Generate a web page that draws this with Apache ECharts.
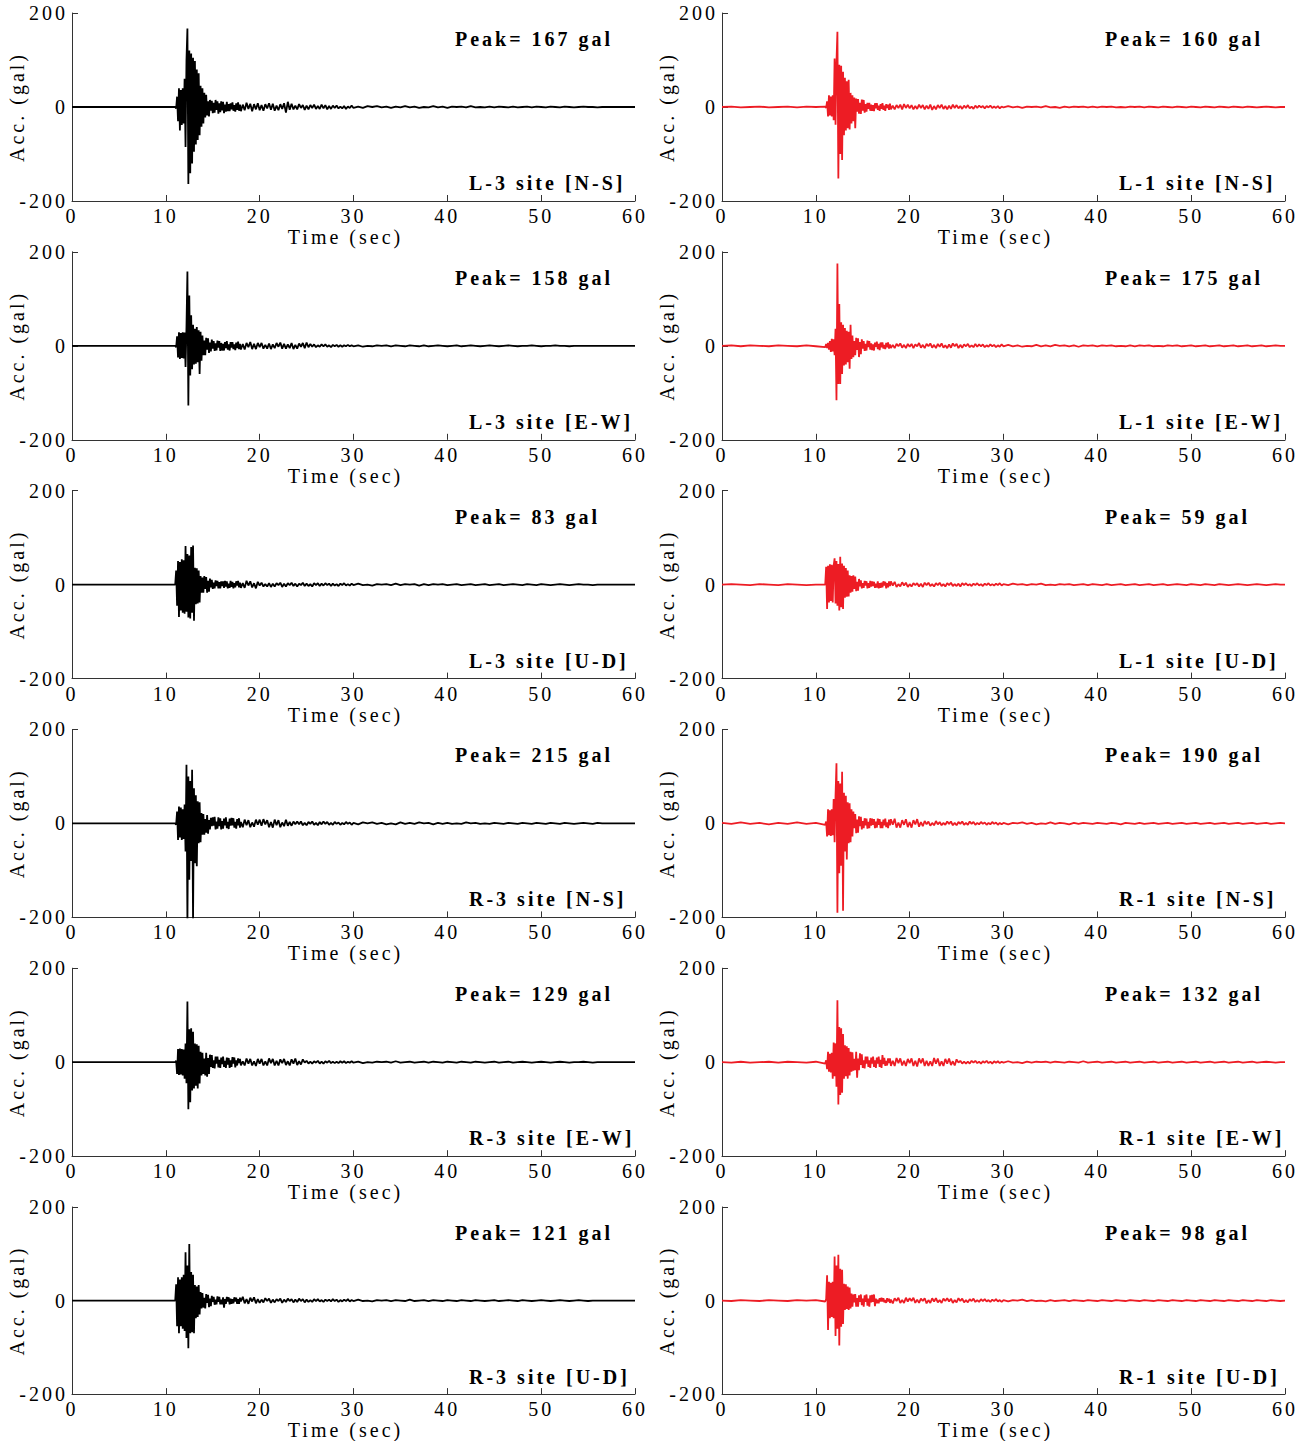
<!DOCTYPE html>
<html>
<head>
<meta charset="utf-8">
<script src="https://cdn.jsdelivr.net/npm/echarts@6/dist/echarts.min.js"></script>
<style>
  html, body { margin: 0; padding: 0; background: #fff; }
  #chart { width: 1312px; height: 1441px; }
  #chart svg text { letter-spacing: 3px; }
</style>
</head>
<body>
<div id="chart"></div>
<script>
// Sampling grid of the records: [start (s), step (s), count]
const TIME_SEGMENTS = [[0, 1, 11], [11, 0.1, 70], [18, 0.2, 60], [30, 0.5, 61]];

// Acceleration records (gal), one value per sample of the grid above
const L3_NS = [
  0,0,0,0,0,0,0,0,0,0,0,
  0,-3,22,-30,40,-50,36,-38,40,-35,
  60,-85,100,167,-164,120,-141,114,-120,105,
  -95,98,-80,80,-70,72,-60,45,-42,40,
  -35,30,-22,26,-18,12,-20,15,-8,13,
  -13,9,-12,15,-6,12,-14,8,-11,12,
  -7,11,-13,5,-10,11,-9,6,-9,8,
  -5,10,-8,4,-10,8,-6,10,-8,5,
  -9,5,-7,9,-4,7,-9,6,-5,8,
  -7,4,-8,6,-3,8,-6,7,-8,3,
  -7,6,-4,8,-12,11,-6,7,-5,3,
  -5,6,-2,4,-6,3,-5,4,-2,5,
  -4,2,-4,5,-3,4,-5,2,-4,3,
  -2,3,-3,1,-3,2,-4,1,-2,3,
  -2,1,-2,2,0,2,-1,1,-2,1,
  -1,2,-1,1,-2,0,-1,2,-1,1,
  -2,1,0,1,-1,2,-1,0,-1,1,
  -1,1,0,-1,1,-1,0,1,-1,1,
  0,-1,1,0,-1,1,0,-1,0,1,
  0,0,-1,0,0,0,0,0,0,0,0
];
const L3_EW = [
  0,0,0,0,0,0,0,0,0,0,0,
  0,-3,20,-25,29,-28,27,-26,29,-27,
  28,-45,40,158,-127,107,-63,65,-50,45,
  -40,36,-38,40,-35,33,-60,30,-32,22,
  -20,11,-20,17,-8,16,-15,7,-12,13,
  -6,10,-11,5,-10,11,-4,10,-11,6,
  -10,4,-10,8,-5,10,-8,3,-10,8,
  -4,8,-7,3,-9,7,-5,9,-7,4,
  -8,4,-8,6,-3,8,-7,4,-7,6,
  -3,6,-6,2,-6,5,-7,3,-5,6,
  -2,7,-6,4,-6,3,-5,6,-7,2,
  -6,5,-2,6,-5,7,-3,4,-2,3,
  -3,1,-2,3,-1,3,-2,1,-3,2,
  -1,2,-2,1,-2,1,-1,2,-1,1,
  -1,1,-2,0,-1,1,0,1,-1,1,
  0,-1,1,0,-1,1,-1,0,1,0,
  -1,0,1,-1,0,1,0,-1,0,1,
  0,-1,0,1,0,-1,0,0,1,0,
  -1,0,0,1,0,0,-1,0,0,0,
  0,0,0,0,0,0,0,0,0,0,0
];
const L3_UD = [
  0,0,0,0,0,0,0,0,0,0,0,
  0,30,-45,50,-69,48,-55,54,-60,52,
  -62,82,-58,65,-70,62,-72,80,-60,83,
  -77,36,-42,35,-40,30,-38,18,-17,15,
  -17,18,-9,16,-17,8,-15,13,-6,10,
  -9,4,-8,9,-3,8,-8,5,-8,7,
  -3,7,-7,8,-4,7,-8,2,-7,8,
  -5,6,-8,3,-6,7,-2,8,-6,4,
  -7,3,-7,8,-2,7,-6,3,-8,6,
  -2,4,-4,1,-4,3,-5,2,-4,3,
  -1,4,-5,2,-4,3,-1,4,-3,2,
  -4,2,-1,4,-3,2,-3,1,-4,3,
  -1,3,-3,2,-2,3,-1,2,-3,2,
  -2,1,-3,2,-1,3,-2,1,-2,2,
  -1,2,-1,0,-2,1,0,1,-1,2,
  -1,1,0,1,-2,1,-1,1,0,1,
  -1,0,1,-1,0,1,-1,0,1,-1,
  0,1,-1,0,1,0,-1,1,0,-1,
  1,0,-1,0,1,0,-1,0,1,0,
  0,-1,0,0,0,0,0,0,0,0,0
];
const R3_NS = [
  0,0,0,0,0,0,0,0,0,0,0,
  0,-3,25,-35,36,-30,34,-35,30,-33,
  40,-60,125,-215,100,-120,90,-80,114,-205,
  75,-85,60,-91,47,-42,45,-40,22,-24,
  20,-24,9,-20,18,-22,7,-13,12,-6,
  13,-5,14,-13,4,-11,13,-6,11,-13,
  5,-11,10,-4,13,-10,3,-12,10,-5,
  12,-4,11,-9,3,-11,9,-4,11,-9,
  3,-8,8,-4,7,-8,2,-7,8,-3,
  8,-5,9,-2,7,-8,3,-9,8,-4,
  7,-8,2,-6,8,-5,3,-5,4,-2,
  4,-2,4,-4,1,-4,3,-1,4,-3,
  1,-4,3,-2,4,-1,3,-3,1,-3,
  3,-1,2,-3,1,-2,3,-1,2,-3,
  1,-2,2,0,2,-1,1,-2,0,-2,
  2,-1,1,-1,2,0,1,-2,1,-1,
  1,-1,0,-1,2,0,1,-1,0,-1,
  1,0,-1,1,0,-1,1,0,-1,1,
  0,-1,1,0,-1,1,0,-1,0,1,
  0,-1,1,0,0,0,0,0,0,0,0
];
const R3_EW = [
  0,0,0,0,0,0,0,0,0,0,0,
  0,3,-25,28,-27,29,-26,28,-28,27,
  -35,40,-45,129,-100,70,-85,72,-60,65,
  -56,40,-50,38,-56,35,-45,22,-28,20,
  -25,8,-28,20,-31,9,-25,16,-10,15,
  -12,4,-13,12,-3,12,-11,5,-12,10,
  -4,12,-10,3,-12,10,-5,9,-12,4,
  -10,11,-3,10,-11,4,-7,8,-2,7,
  -7,2,-7,8,-3,7,-7,2,-8,7,
  -3,7,-7,2,-7,8,-2,7,-7,3,
  -7,6,-2,7,-6,2,-7,6,-3,8,
  -6,2,-5,6,-1,3,-3,1,-3,2,
  -1,3,-3,1,-3,2,-1,3,-2,1,
  -2,1,-2,2,-1,2,-2,1,-1,2,
  -1,1,-2,0,-1,1,0,1,-1,2,
  -1,0,1,-1,0,1,-1,1,0,-1,
  1,0,-1,1,0,-1,1,0,-1,0,
  1,-1,0,1,-1,0,1,0,-1,0,
  1,0,-1,0,1,0,-1,0,0,1,
  0,-1,0,0,0,0,0,0,0,0,0
];
const R3_UD = [
  0,0,0,0,0,0,0,0,0,0,0,
  0,35,-55,50,-70,45,-55,50,-60,55,
  -65,103,-80,75,-102,121,-70,61,-68,55,
  -70,33,-38,30,-35,33,-30,18,-17,16,
  -15,6,-17,14,-5,12,-14,4,-12,10,
  -3,8,-9,2,-8,9,-3,8,-8,2,
  -8,7,-15,3,-7,8,-2,7,-8,4,
  -7,3,-6,7,-2,6,-7,3,-7,6,
  -2,8,-6,3,-7,6,-2,7,-6,3,
  -5,2,-4,5,-1,4,-5,2,-4,3,
  -1,4,-5,2,-3,4,-1,3,-4,2,
  -3,4,-1,3,-4,2,-3,1,-3,3,
  -1,3,-2,1,-3,2,-1,2,-2,3,
  -1,2,-3,1,-2,2,-1,3,-2,1,
  -1,2,-1,0,-2,1,0,1,-1,1,
  0,-1,2,-1,0,1,-1,1,0,-1,
  1,0,-1,1,0,-1,1,0,-1,0,
  1,-1,0,1,0,-1,1,0,-1,0,
  1,0,-1,0,1,0,-1,0,1,0,
  -1,0,0,0,0,0,0,0,0,0,0
];
const L1_NS = [
  0,1,-1,0,1,-1,0,1,-1,1,0,
  1,-2,12,-20,25,-18,22,-20,25,-28,
  103,-38,95,160,-152,90,-100,88,-113,75,
  -60,62,-50,55,-45,58,-48,30,-35,25,
  -30,20,-45,18,-10,17,-14,9,-15,16,
  -8,15,-12,6,-10,9,-4,9,-8,5,
  -8,4,-9,8,-3,8,-6,3,-8,6,
  -4,8,-6,3,-8,6,-2,5,-6,7,
  -5,3,-5,4,-2,5,-5,6,-2,5,
  -3,4,-5,2,-4,5,-2,4,-5,3,
  -4,5,-6,2,-5,4,-2,5,-4,2,
  -5,3,-4,5,-2,4,-3,2,-4,3,
  -2,4,-3,1,-4,3,-2,3,-1,2,
  -3,2,-1,3,-2,1,-2,2,-3,1,
  -1,2,-1,1,-2,1,0,1,-1,2,
  -1,0,-2,1,-1,1,0,1,-1,1,
  -1,1,0,1,-1,0,-1,1,0,1,
  -1,1,0,-1,1,0,-1,1,0,-1,
  1,0,-1,1,0,-1,1,0,-1,1,
  0,-1,1,0,-1,0,1,0,-1,0,0
];
const L1_EW = [
  0,1,-1,1,0,-1,1,0,-1,1,-1,
  -3,4,-5,6,-8,10,-13,15,-12,14,
  -20,36,-116,175,-81,89,-81,50,-60,45,
  -42,38,-40,32,-35,30,-49,45,-28,22,
  -24,10,-20,17,-9,16,-24,8,-18,14,
  -6,10,-11,4,-10,11,-3,10,-8,5,
  -9,3,-10,7,-2,9,-7,4,-9,7,
  -3,7,-6,2,-7,6,-3,7,-6,3,
  -5,2,-5,4,-1,5,-4,2,-5,4,
  -2,4,-5,3,-1,6,-4,2,-5,4,
  -1,5,-4,2,-5,4,-2,5,-4,1,
  -5,3,-4,5,-1,4,-5,2,-4,3,
  -1,4,-3,1,-3,4,-2,3,-1,3,
  -3,1,-2,3,-1,2,-3,1,-2,3,
  -1,2,-1,1,-2,0,-1,2,-1,1,
  -1,2,0,1,-1,1,-2,1,0,1,
  -1,1,0,1,-1,0,-1,1,-1,1,
  0,1,-1,0,-1,1,0,1,-1,0,
  1,-1,0,1,-1,0,1,-1,0,1,
  -1,0,1,-1,0,1,-1,0,1,0,0
];
const L1_UD = [
  0,1,0,-1,1,0,-1,1,0,-1,0,
  0,38,-52,40,-38,43,-35,42,-38,40,
  56,-40,50,-45,44,-55,59,-48,45,-52,
  40,-28,35,-26,30,-25,20,-17,18,-15,
  20,-9,17,-14,6,-13,12,-4,9,-8,
  3,-7,8,-2,7,-8,3,-7,8,-4,
  7,-3,6,-7,2,-6,7,-8,3,-7,
  4,-6,7,-2,6,-8,3,-6,7,-3,
  7,-2,6,-5,1,-4,5,-2,4,-5,
  1,-4,3,-1,3,-4,2,-5,4,-1,
  4,-3,1,-4,3,-1,4,-3,1,-4,
  3,-1,4,-3,1,-3,2,-4,3,-1,
  3,-2,1,-3,2,-1,3,-2,1,-3,
  2,-1,3,-2,1,-2,2,-1,3,-2,
  1,-1,2,0,1,-1,1,0,2,-1,
  0,-1,1,0,1,-1,0,1,-1,1,
  0,-1,1,-1,0,1,-1,0,1,-1,
  0,1,-1,0,1,-1,0,1,0,-1,
  1,0,-1,1,0,-1,1,0,-1,0,
  1,0,-1,0,1,0,-1,0,1,0,0
];
const R1_NS = [
  1,-1,2,-1,1,-2,1,-1,2,-1,1,
  -3,4,-28,30,-25,28,-27,30,-25,52,
  -40,60,128,-190,90,-106,85,-90,110,-186,
  65,-60,59,-77,45,-42,43,-40,30,-28,
  25,-10,20,-21,8,-20,15,-6,14,-13,
  5,-10,11,-4,10,-11,3,-10,11,-5,
  10,-3,9,-10,4,-9,10,-3,9,-10,
  3,-10,8,-4,10,-8,2,-10,8,-4,
  9,-3,10,-9,2,-9,7,-3,9,-8,
  3,-9,7,-2,9,-7,3,-6,5,-2,
  4,-5,1,-4,5,-2,3,-4,1,-3,
  4,-1,4,-4,1,-4,3,-1,4,-3,
  1,-3,4,-1,3,-3,1,-2,3,-1,
  2,-3,1,-2,3,-1,2,-3,1,-2,
  1,-2,1,0,2,-1,1,-2,0,-1,
  2,-1,1,0,-2,1,-1,1,0,-1,
  1,0,-1,1,0,-2,1,0,-1,1,
  -1,0,1,-1,0,1,-1,0,1,-1,
  0,1,-1,0,1,-1,0,1,-1,0,
  1,-1,0,1,-1,0,1,-1,0,1,0
];
const R1_EW = [
  0,-1,1,-1,0,1,-1,1,0,-1,1,
  -3,4,-15,22,-20,18,-22,20,-35,42,
  -30,40,-52,132,-90,75,-70,72,-65,60,
  -35,36,-30,34,-35,30,-28,22,-20,21,
  -18,7,-17,22,-33,8,-17,19,-6,17,
  -12,4,-13,12,-3,12,-10,4,-12,10,
  -3,12,-10,4,-12,10,-3,12,-10,5,
  -12,15,-4,9,-8,3,-7,8,-2,8,
  -8,3,-8,9,-2,8,-7,3,-8,7,
  -2,8,-8,3,-9,8,-2,8,-8,3,
  -8,2,-8,9,-3,8,-8,2,-8,7,
  -3,8,-6,2,-7,6,-1,3,-3,1,
  -3,1,-3,3,-1,3,-2,1,-3,2,
  -1,3,-2,1,-3,2,-1,2,-2,1,
  -1,2,-1,0,-2,1,-1,1,0,1,
  -1,1,0,-1,1,0,-1,2,-1,0,
  1,-1,0,1,-1,0,1,-1,0,1,
  -1,0,1,-1,0,1,-1,0,1,-1,
  0,1,-1,0,1,-1,0,1,-1,0,
  1,-1,0,1,-1,0,1,0,-1,0,0
];
const R1_UD = [
  0,-1,1,0,-1,1,0,-1,1,0,1,
  -2,3,54,-63,40,-38,38,-35,40,-38,
  94,-76,75,-60,98,-96,68,-56,66,-50,
  36,-20,35,-18,30,-20,28,-17,15,-13,
  13,-4,14,-13,5,-13,11,-3,13,-10,
  4,-13,11,-3,13,-11,4,-13,11,-4,
  12,-3,13,-12,4,-6,2,-6,5,-2,
  6,-2,5,-4,1,-5,5,-2,4,-5,
  2,-6,5,-1,6,-5,1,-5,6,-2,
  5,-1,6,-5,2,-5,4,-1,5,-6,
  1,-5,5,-2,5,-4,1,-5,4,-1,
  5,-2,4,-5,1,-4,5,-1,4,-4,
  1,-4,3,-1,4,-3,1,-3,3,-1,
  3,-2,1,-3,2,-1,3,-2,1,-3,
  1,-2,1,0,2,-1,1,-1,0,-2,
  1,-1,0,1,-1,1,0,-1,1,0,
  -1,1,0,-1,1,0,-1,1,0,-1,
  1,0,-1,1,0,-1,1,0,-1,1,
  0,-1,1,0,-1,1,0,-1,1,0,
  -1,1,0,-1,1,0,-1,1,0,-1,0
];

// Panels, column by column (left: site 3, right: site 1)
const TRACES = [
  [L3_NS, L3_EW, L3_UD, R3_NS, R3_EW, R3_UD],
  [L1_NS, L1_EW, L1_UD, R1_NS, R1_EW, R1_UD]
];
const SITE_LABELS = [
  ['L-3 site [N-S]', 'L-3 site [E-W]', 'L-3 site [U-D]', 'R-3 site [N-S]', 'R-3 site [E-W]', 'R-3 site [U-D]'],
  ['L-1 site [N-S]', 'L-1 site [E-W]', 'L-1 site [U-D]', 'R-1 site [N-S]', 'R-1 site [E-W]', 'R-1 site [U-D]']
];
const COLUMN_COLORS = ['#000000', '#ed1c24'];
const X_NAME = 'Time (sec)';
const Y_NAME = 'Acc. (gal)';

// Build the time grid
const TIME = [];
TIME_SEGMENTS.forEach(([start, step, count]) => {
  for (let i = 0; i < count; i++) TIME.push(Math.round((start + i * step) * 100) / 100);
});

const FONT = '"Liberation Serif", "Times New Roman", serif';
const PLOT_LEFT = [72, 722];
const PLOT_W = 563, PLOT_H = 188, TOP0 = 13, ROW_STEP = 238.8;

const grid = [], xAxis = [], yAxis = [], series = [], graphic = [];
let idx = 0;
for (let c = 0; c < 2; c++) {
  for (let r = 0; r < 6; r++) {
    const top = TOP0 + r * ROW_STEP;
    const left = PLOT_LEFT[c];
    const values = TRACES[c][r];
    grid.push({ left: left, top: top, width: PLOT_W, height: PLOT_H });
    xAxis.push({
      gridIndex: idx, type: 'value', min: 0, max: 60, interval: 10,
      name: X_NAME, nameLocation: 'middle', nameGap: 19,
      nameTextStyle: { fontFamily: FONT, fontSize: 20, color: '#000', padding: [0, 16, 0, 0] },
      axisLine: { onZero: false, lineStyle: { color: '#333', width: 1 } },
      axisTick: { inside: true, length: 6, lineStyle: { color: '#333' } },
      axisLabel: { fontFamily: FONT, fontSize: 20, color: '#000', margin: 5 },
      splitLine: { show: false }
    });
    yAxis.push({
      gridIndex: idx, type: 'value', min: -200, max: 200, interval: 200,
      name: Y_NAME, nameLocation: 'middle', nameGap: 38,
      nameTextStyle: { fontFamily: FONT, fontSize: 20, color: '#000' },
      axisLine: { show: true, lineStyle: { color: '#333', width: 1 } },
      axisTick: { show: true, inside: true, length: 6, lineStyle: { color: '#333' } },
      axisLabel: { fontFamily: FONT, fontSize: 20, color: '#000', margin: 4 },
      splitLine: { show: false }
    });
    series.push({
      type: 'line', xAxisIndex: idx, yAxisIndex: idx,
      data: TIME.map((t, k) => [t, values[k]]),
      showSymbol: false, symbol: 'none', silent: true, clip: true,
      lineStyle: { width: 1.8, color: COLUMN_COLORS[c], join: 'bevel' }
    });
    const peak = Math.max.apply(null, values.map(Math.abs));
    graphic.push({
      type: 'text', left: left + 383, top: top + 16,
      style: { text: 'Peak= ' + peak + ' gal', font: 'bold 20px ' + FONT, fill: '#000' }
    });
    graphic.push({
      type: 'text', left: left + 397, top: top + 160,
      style: { text: SITE_LABELS[c][r], font: 'bold 20px ' + FONT, fill: '#000' }
    });
    idx++;
  }
}

const chart = echarts.init(document.getElementById('chart'), null, { renderer: 'svg', width: 1312, height: 1441 });
chart.setOption({
  animation: false,
  backgroundColor: '#fff',
  grid: grid, xAxis: xAxis, yAxis: yAxis, series: series, graphic: graphic
});
</script>
</body>
</html>
